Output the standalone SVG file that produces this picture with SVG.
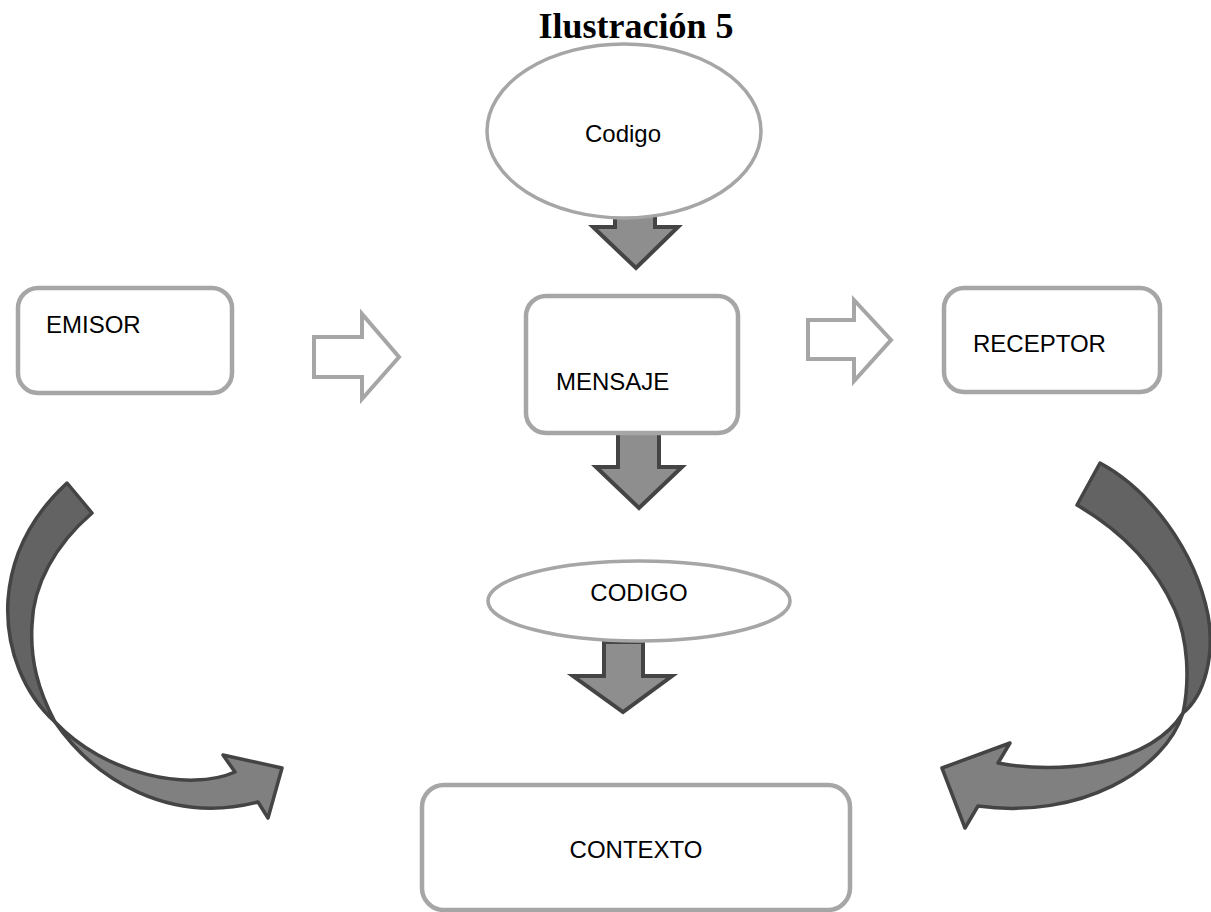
<svg xmlns="http://www.w3.org/2000/svg" width="1211" height="912" viewBox="0 0 1211 912">
<style>
.box{fill:#fff;stroke:#a6a6a6;stroke-width:4.5}
.ell{fill:#fff;stroke:#a6a6a6;stroke-width:3.5}
.lbl{font-family:"Liberation Sans",Arial,sans-serif;font-size:24px;fill:#000}
.down{fill:#8e8e8e;stroke:#444;stroke-width:4;stroke-linejoin:miter}
.hollow{fill:#fff;stroke:#a6a6a6;stroke-width:4}
.cdark{fill:#636363;stroke:#444;stroke-width:3.5;stroke-linejoin:round}
.clight{fill:#808080;stroke:#444;stroke-width:3.5;stroke-linejoin:round}
.title{font-family:"Liberation Serif","Times New Roman",serif;font-weight:bold;font-size:36px;fill:#000}
</style>
<rect width="1211" height="912" fill="#fff"/>
<text class="title" x="636" y="38" text-anchor="middle">Ilustración 5</text>
<g id="connectors">
  <polygon class="down" points="615,210 655,210 655,227 678,227 636,268 593,227 615,227"/>
  <polygon class="down" points="618,432 659,432 659,467 682,467 639,508 596,467 618,467"/>
  <polygon class="down" points="604,642 643,642 643,676 672,676 623,712 573,676 604,676"/>
  <polygon class="hollow" points="314,337 362,337 362,314 399,357 362,399 362,377 314,377"/>
  <polygon class="hollow" points="808,320 854,320 854,300 891,340 854,381 854,359 808,359"/>
  <path class="cdark" d="M67,483 C40,508 12,545 8,600 C5,650 25,695 55,722 C38,690 30,660 32,625 C33,585 55,545 92,513 Z"/>
  <path class="clight" d="M55,722 C95,780 170,825 258,802 L268,818 L282,768 L223,755 L235,772 C190,792 105,775 55,722 Z"/>
  <path class="cdark" d="M1100,463 C1150,490 1195,550 1208,615 C1215,655 1205,695 1183,713 C1190,680 1188,640 1175,610 C1155,565 1120,530 1077,505 Z"/>
  <path class="clight" d="M1183,713 C1165,770 1080,820 978,806 L965,828 L942,768 L1010,743 L998,763 C1060,775 1150,765 1183,713 Z"/>
</g>
<g id="codigo-top">
  <ellipse class="ell" cx="624" cy="131" rx="137" ry="87"/>
  <text class="lbl" x="623" y="142" text-anchor="middle">Codigo</text>
</g>
<g id="emisor">
  <rect class="box" x="18" y="288" width="214" height="105" rx="20"/>
  <text class="lbl" x="46" y="333">EMISOR</text>
</g>
<g id="mensaje">
  <rect class="box" x="526" y="296" width="212" height="137" rx="20"/>
  <text class="lbl" x="556" y="390">MENSAJE</text>
</g>
<g id="receptor">
  <rect class="box" x="944" y="288" width="216" height="104" rx="20"/>
  <text class="lbl" x="973" y="352">RECEPTOR</text>
</g>
<g id="codigo">
  <ellipse class="ell" cx="639" cy="601" rx="151" ry="40"/>
  <text class="lbl" x="639" y="601" text-anchor="middle">CODIGO</text>
</g>
<g id="contexto">
  <rect class="box" x="422" y="785" width="428" height="125" rx="22"/>
  <text class="lbl" x="636" y="858" text-anchor="middle">CONTEXTO</text>
</g>
</svg>
